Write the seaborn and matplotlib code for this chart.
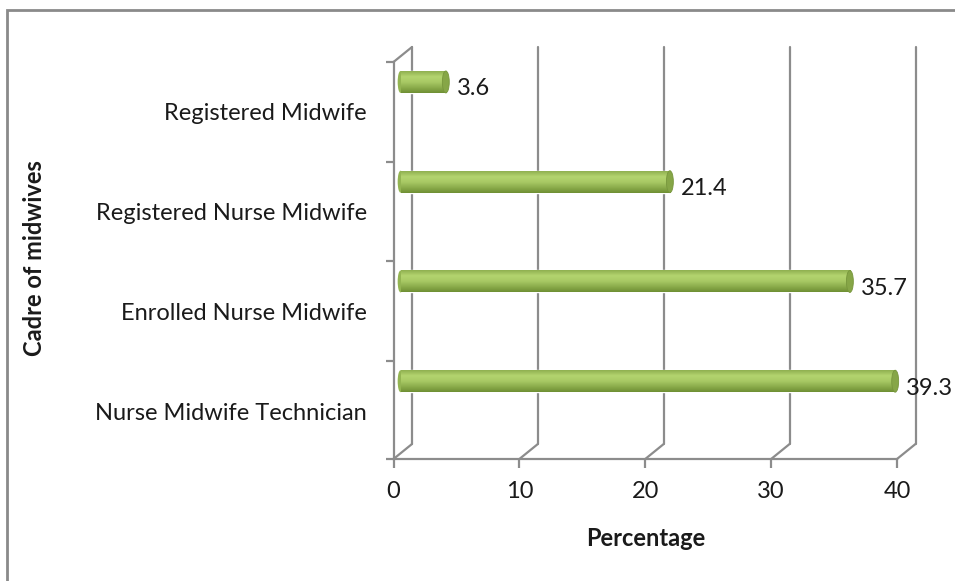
import numpy as np
import pandas as pd
import seaborn as sns
import matplotlib.pyplot as plt
from matplotlib.colors import LinearSegmentedColormap
from matplotlib.patches import Ellipse, Rectangle
from matplotlib.transforms import ScaledTranslation

# Data
categories = ["Registered Midwife", "Registered Nurse Midwife",
              "Enrolled Nurse Midwife", "Nurse Midwife Technician"]
percentages = [3.6, 21.4, 35.7, 39.3]
x_ticks = [0, 10, 20, 30, 40]

df = pd.DataFrame({"cadre": categories, "pct": percentages})

sns.set_theme(style="white")
plt.rcParams["font.family"] = ["Lato", "DejaVu Sans"]

W, H, DPI = 955, 581, 100
fig = plt.figure(figsize=(W / DPI, H / DPI), dpi=DPI)

# outer chart border (only left and top visible)
fig.patches.append(Rectangle((7 / W, -0.1), 1.2, 1 - 10 / H + 0.1,
                             transform=fig.transFigure, fill=False,
                             edgecolor="#8a8a8a", lw=2))

# front plane of the pseudo-3D plot area
x0_px, x1_px, top_px, bot_px = 393.5, 897, 62, 459
ax = fig.add_axes([x0_px / W, 1 - bot_px / H, (x1_px - x0_px) / W, (bot_px - top_px) / H])
ax.patch.set_alpha(0)

grid_col = "#8c8c8c"
bar_col = "#9bbb59"
txt_col = "#1a1a1a"
fs = 17

sns.barplot(data=df, x="pct", y="cadre", orient="h", color=bar_col,
            width=0.22, saturation=1, ax=ax, zorder=3)

y_lo, y_hi = 3.78, -0.2
ax.set_xlim(0, 40)
ax.set_ylim(y_lo, y_hi)

px = fig.dpi_scale_trans
back = ax.transData + ScaledTranslation(18.5 / DPI, 15 / DPI, px)
mid = ax.transData + ScaledTranslation(7 / DPI, 0, px)

# back wall gridlines + floor diagonals
for t in x_ticks:
    ax.plot([t, t], [y_lo, y_hi], color=grid_col, lw=1.6, transform=back,
            clip_on=False, zorder=1)
    fx, fy = ax.transData.transform((t, y_lo))
    bx, by = back.transform((t, y_lo))
    ax.add_line(plt.Line2D([fx, bx], [fy, by], color=grid_col, lw=1.6,
                           transform=None, clip_on=False, zorder=1))
fx, fy = ax.transData.transform((0, y_hi))
bx, by = back.transform((0, y_hi))
ax.add_line(plt.Line2D([fx, bx], [fy, by], color=grid_col, lw=1.6,
                       transform=None, clip_on=False, zorder=1))

# cylinder shading for the bars
cmap = LinearSegmentedColormap.from_list(
    "cyl", ["#8fb050", "#b4d46f", "#a8c965", "#8cad4c", "#6f8f34"])
grad = np.linspace(0, 1, 64).reshape(-1, 1)
for p, v in zip(ax.patches[:len(percentages)], percentages):
    p.set_transform(mid)
    p.set_clip_on(False)
    bx0, by0, bw, bh = p.get_x(), p.get_y(), p.get_width(), p.get_height()
    im = ax.imshow(grad, extent=(bx0, bx0 + bw, by0 + bh, by0), aspect="auto",
                   cmap=cmap, transform=mid, zorder=4, interpolation="bilinear")
    im.set_clip_path(p)
    ax.add_patch(Ellipse((bx0, by0 + bh / 2), 0.45, bh, transform=mid,
                         facecolor="#93b452", edgecolor="none", zorder=3,
                         clip_on=False))
    ax.add_patch(Ellipse((bx0 + bw, by0 + bh / 2), 0.55, bh, transform=mid,
                         facecolor="#86a647", edgecolor="#77963c", lw=0.6,
                         zorder=5, clip_on=False))
    ax.annotate(f"{v}", (bx0 + bw, by0 + bh / 2), xytext=(18, -7),
                textcoords="offset pixels", ha="left", va="center",
                fontsize=fs, color=txt_col, zorder=6, annotation_clip=False)

ax.set_xlim(0, 40)
ax.set_ylim(y_lo, y_hi)

# axes styling
for s in ["top", "right"]:
    ax.spines[s].set_visible(False)
for s in ["left", "bottom"]:
    ax.spines[s].set_color(grid_col)
    ax.spines[s].set_linewidth(1.6)
    ax.spines[s].set_zorder(2)

ax.set_xticks(x_ticks, labels=[str(t) for t in x_ticks])
ax.tick_params(axis="x", which="major", direction="out", length=6.5, width=1.6,
               color=grid_col, pad=9.5, labelsize=fs, labelcolor=txt_col,
               bottom=True)
edges = [i - 0.2 for i in range(len(categories))] + [y_lo]
ax.set_yticks(edges, labels=[""] * len(edges))
ax.set_yticks([i + 0.3 for i in range(len(categories))], labels=categories, minor=True)
ax.tick_params(axis="y", which="major", direction="out", length=6, width=1.6,
               color=grid_col, left=True)
ax.tick_params(axis="y", which="minor", length=0, pad=19, labelsize=fs,
               labelcolor=txt_col, left=True)
ax.set_xlabel("")
ax.set_ylabel("")

fig.text(646 / W, 1 - 538 / H, "Percentage", ha="center", va="center",
         fontsize=fs, fontweight="bold", color=txt_col)
fig.text(35 / W, 1 - 258 / H, "Cadre of midwives", ha="center", va="center",
         rotation=90, fontsize=fs, fontweight="bold", color=txt_col)

fig.savefig("out.png", dpi=DPI)
